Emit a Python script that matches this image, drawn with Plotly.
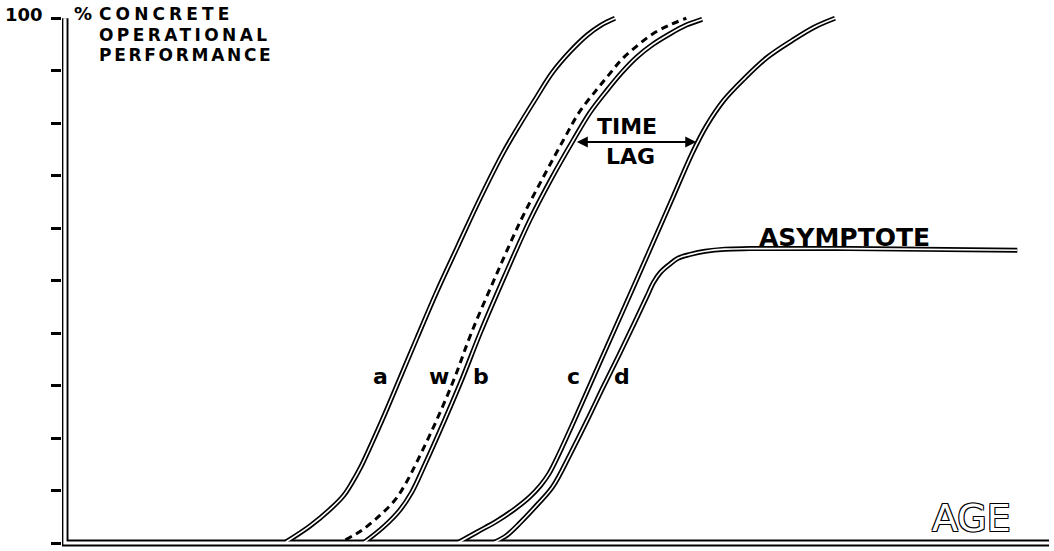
import plotly.graph_objects as go

# --- curve data (age units 0-100, % concrete operational performance) ---
a_age = [22.6, 25.0, 27.1, 28.4, 29.3, 30.1, 32.3, 34.1, 35.8, 37.8, 39.9, 42.2, 44.5, 46.2, 47.9, 49.5, 51.3, 53.0, 54.4, 55.8]
a_perf = [0.2, 3.2, 6.5, 9.0, 11.6, 14.3, 23.4, 31.4, 39.0, 47.8, 56.4, 65.7, 74.3, 79.8, 85.0, 89.7, 93.7, 96.8, 98.7, 100]

w_age = [28.6, 30.3, 32.1, 33.6, 34.7, 35.9, 37.8, 39.6, 41.3, 43.8, 46.3, 48.5, 50.6, 52.2, 54.0, 55.3, 56.5, 58.0, 59.6, 61.3, 63.0]
w_perf = [0.6, 2.5, 5.3, 8.2, 11.4, 15.8, 23.4, 31.4, 40.0, 51.0, 61.5, 69.5, 76.8, 82.1, 86.5, 89.5, 92.2, 94.7, 97.0, 98.7, 100]

b_age = [30.4, 32.4, 34.1, 35.3, 36.6, 38.6, 40.4, 42.2, 44.7, 47.2, 49.4, 51.6, 53.3, 55.0, 56.5, 58.0, 59.6, 61.4, 63.0, 64.6]
b_perf = [0.0, 3.0, 6.3, 9.7, 14.9, 23.4, 31.4, 40.0, 51.0, 61.5, 69.5, 76.8, 82.1, 86.3, 89.7, 92.6, 95.0, 97.1, 98.7, 99.8]

c_age = [39.9, 41.9, 43.9, 45.7, 47.2, 48.3, 49.1, 49.9, 51.7, 54.3, 56.8, 59.3, 61.6, 63.6, 65.0, 66.8, 68.9, 71.2, 73.7, 75.9, 78.0]
c_perf = [0.0, 2.1, 4.2, 6.5, 8.8, 11.0, 13.1, 16.0, 23.4, 34.5, 45.1, 55.8, 65.7, 74.3, 79.4, 84.4, 88.6, 92.6, 95.8, 98.3, 100]

d_age = [43.5, 44.9, 46.2, 47.9, 49.5, 51.3, 53.0, 54.6, 56.3, 57.8, 59.0, 59.7, 60.4, 61.3, 62.2, 63.4, 64.9, 66.9, 69.4, 79.5, 96.4]
d_perf = [0.0, 1.5, 3.8, 7.2, 10.7, 17.0, 23.4, 29.7, 36.2, 42.1, 46.9, 49.7, 51.6, 53.1, 54.3, 55.0, 55.6, 56.0, 56.1, 56.1, 55.8]

# axis frame drawn as a hollow L (vertical then baseline)
frame_age = [0.3, 0.3, 99.6]
frame_perf = [100, 0, 0]

curve_names = ["a", "w", "b", "c", "d"]
label_age = [32.1, 38.0, 42.3, 51.6, 56.5]
label_perf = 31.8

lag_from = 51.8
lag_to = 64.0
lag_level = 76.4

perf_ticks = [0, 10, 20, 30, 40, 50, 60, 70, 80, 90, 100]

title_lines = ["CONCRETE", "OPERATIONAL", "PERFORMANCE"]

fig = go.Figure()

solid = [(a_age, a_perf), (b_age, b_perf), (c_age, c_perf), (d_age, d_perf)]

# black outline first, then white core -> double-stroke look of the drawing
fig.add_trace(go.Scatter(x=frame_age, y=frame_perf, mode="lines", line=dict(color="black", width=7),
                         hoverinfo="skip", showlegend=False))
for xs, ys in solid:
    fig.add_trace(go.Scatter(x=xs, y=ys, mode="lines", line=dict(color="black", width=5, shape="spline", smoothing=1),
                             hoverinfo="skip", showlegend=False))
fig.add_trace(go.Scatter(x=w_age, y=w_perf, mode="lines",
                         line=dict(color="black", width=3, dash="7px,5px", shape="spline", smoothing=1),
                         hoverinfo="skip", showlegend=False))
fig.add_trace(go.Scatter(x=frame_age, y=frame_perf, mode="lines", line=dict(color="white", width=3.2),
                         hoverinfo="skip", showlegend=False))
for xs, ys in solid:
    fig.add_trace(go.Scatter(x=xs, y=ys, mode="lines", line=dict(color="white", width=1.6, shape="spline", smoothing=1),
                             hoverinfo="skip", showlegend=False))

font_main = "DejaVu Sans"

# curve letters
for name, xv in zip(curve_names, label_age):
    fig.add_annotation(x=xv, y=label_perf, text="<b>" + name + "</b>", showarrow=False,
                       font=dict(family=font_main, size=22, color="black"))

# time lag arrow
fig.add_annotation(x=lag_to, y=lag_level, ax=lag_from, ay=lag_level, axref="x", ayref="y",
                   showarrow=True, arrowside="end+start", arrowhead=2, arrowsize=1.1, arrowwidth=2,
                   arrowcolor="black", standoff=0, startstandoff=0, text="")
fig.add_annotation(x=57.0, y=79.3, text="<b>TIME</b>", showarrow=False,
                   font=dict(family=font_main, size=22, color="black"))
fig.add_annotation(x=57.4, y=73.6, text="<b>LAG</b>", showarrow=False,
                   font=dict(family=font_main, size=22, color="black"))

fig.add_annotation(x=79.0, y=58.3, text="<b>ASYMPTOTE</b>", showarrow=False,
                   font=dict(family=font_main, size=25, color="black"))

# axis titles
fig.add_annotation(xref="paper", x=-0.017, y=100.8, text="<b>100</b>", showarrow=False,
                   xanchor="right", font=dict(family=font_main, size=18, color="black"))
fig.add_annotation(x=3.25, y=101.0, text="<b>%</b>", showarrow=False, xanchor="right",
                   font=dict(family=font_main, size=18, color="black"))
spacing = ["4.1px", "3.4px", "2.7px"]
block = "<br>".join("<span style='font-size:17px;letter-spacing:%s'>%s</span>" % (ls, t)
                    for ls, t in zip(spacing, title_lines))
fig.add_annotation(x=3.5, yref="paper", y=0.9598, yanchor="middle", align="left", xanchor="left",
                   showarrow=False, text="<b>" + block + "</b>",
                   font=dict(family=font_main, size=15.8, color="black"))
fig.add_annotation(x=91.8, y=4.7, text="AGE", showarrow=False,
                   font=dict(family=font_main, size=38, color="white",
                             shadow="1px 1px 0 #000, -1px -1px 0 #000, 1px -1px 0 #000, -1px 1px 0 #000"))

fig.update_xaxes(range=[0, 100], showgrid=False, zeroline=False, showline=False,
                 showticklabels=False, ticks="", automargin=False)
fig.update_yaxes(range=[-0.95, 101], showgrid=False, zeroline=False, showline=False,
                 showticklabels=False, ticks="outside", ticklen=10, tickwidth=2.5, tickcolor="black",
                 tickvals=perf_ticks, automargin=False)

fig.update_layout(width=1054, height=551, paper_bgcolor="white", plot_bgcolor="white",
                  margin=dict(l=62, r=1, t=13, b=3), showlegend=False)

# drop the default page margin so the figure sits at the window's corner
fig.write_html("out.html", config={"displayModeBar": False},
               post_script="document.body.style.margin='0px';")
